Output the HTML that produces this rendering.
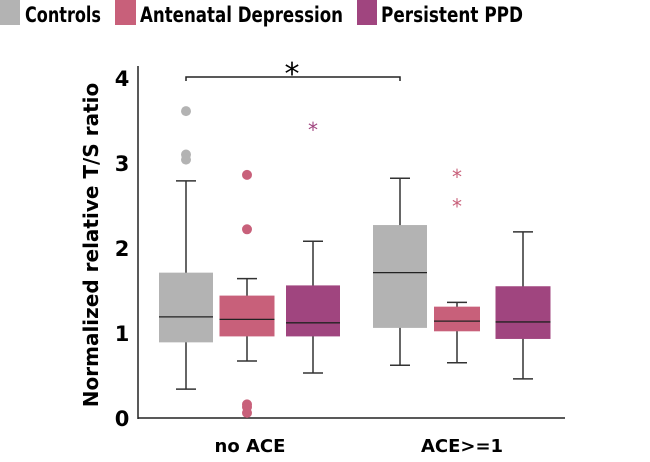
<!DOCTYPE html>
<html><head><meta charset="utf-8"><style>
body{margin:0;background:#fff;width:650px;height:462px;overflow:hidden}
svg{display:block;font-family:"DejaVu Sans","Liberation Sans",sans-serif;font-weight:bold}
</style></head><body>
<svg id="chart" width="650" height="462">
<g>
<rect x="0" y="0" width="20" height="25" fill="#b3b3b3"/>
<text x="25" y="22" font-size="21" textLength="76" lengthAdjust="spacingAndGlyphs">Controls</text>
<rect x="115" y="0" width="21" height="25" fill="#c8607a"/>
<text x="140" y="22" font-size="21" textLength="203" lengthAdjust="spacingAndGlyphs">Antenatal Depression</text>
<rect x="357" y="0" width="20" height="25" fill="#a0457f"/>
<text x="381" y="22" font-size="21" textLength="142" lengthAdjust="spacingAndGlyphs">Persistent PPD</text>
</g>
<text transform="translate(98,245) rotate(-90)" text-anchor="middle" font-size="20">Normalized relative T/S ratio</text>
<line x1="138" y1="66" x2="138" y2="419" stroke="#222" stroke-width="1.5"/>
<line x1="138" y1="418" x2="565" y2="418" stroke="#222" stroke-width="1.5"/>
<text x="250" y="452" text-anchor="middle" font-size="18">no ACE</text>
<text x="462" y="452" text-anchor="middle" font-size="18">ACE&gt;=1</text>
<path d="M186,81 V77 H400 V81" fill="none" stroke="#222" stroke-width="1.5"/>
<text x="292" y="84" text-anchor="middle" font-size="30" font-weight="normal">*</text>
<g id="marks"></g>
</svg>
<script>
const yTicks=[0,1,2,3,4];
const groupNames=["controls-no-ace","antenatal-no-ace","ppd-no-ace","controls-ace","antenatal-ace","ppd-ace"];
const whiskerLow=[0.34,0.67,0.53,0.62,0.65,0.46];
const q1=[0.89,0.96,0.96,1.06,1.02,0.93];
const medians=[1.19,1.16,1.12,1.71,1.14,1.13];
const q3=[1.71,1.44,1.56,2.27,1.31,1.55];
const whiskerHigh=[2.79,1.64,2.08,2.82,1.36,2.19];
const outlierDots=[[3.61,3.1,3.04],[2.86,2.22,0.16,0.13,0.06],[],[],[],[]];
const outlierStars=[[],[],[3.41],[],[2.86,2.51],[]];
const colors=["#b3b3b3","#c8607a","#a0457f","#b3b3b3","#c8607a","#a0457f"];
const centers=[186,247,313,400,457,523];
const widths=[54,55,54,54,46,55];
const y=v=>418-85*v;
const NS="http://www.w3.org/2000/svg";
const g=document.getElementById('marks');
function mk(t,a,p){const e=document.createElementNS(NS,t);for(const k in a)e.setAttribute(k,a[k]);(p||g).appendChild(e);return e;}
yTicks.forEach(t=>{const e=mk('text',{x:122,y:y(t)+8,'text-anchor':'middle','font-size':21});e.textContent=t;

});
groupNames.forEach((n,i)=>{const c=centers[i],w=widths[i];
const grp=mk('g',{});


mk('line',{x1:c,x2:c,y1:y(whiskerHigh[i]),y2:y(whiskerLow[i]),stroke:'#333','stroke-width':1.5},grp);
mk('line',{x1:c-10,x2:c+10,y1:y(whiskerHigh[i]),y2:y(whiskerHigh[i]),stroke:'#333','stroke-width':1.5},grp);
mk('line',{x1:c-10,x2:c+10,y1:y(whiskerLow[i]),y2:y(whiskerLow[i]),stroke:'#333','stroke-width':1.5},grp);
mk('rect',{x:c-w/2,y:y(q3[i]),width:w,height:y(q1[i])-y(q3[i]),fill:colors[i]},grp);
mk('line',{x1:c-w/2,x2:c+w/2,y1:y(medians[i]),y2:y(medians[i]),stroke:'#222','stroke-width':1.3},grp);
outlierDots[i].forEach(v=>{const d=mk('circle',{cx:c,cy:y(v),r:5,fill:colors[i]},grp);

});
outlierStars[i].forEach(v=>{const s=mk('text',{x:c,y:y(v)+9,'text-anchor':'middle','font-size':20,'font-weight':'normal',fill:colors[i]},grp);s.textContent='*';

});
});
</script>
</body></html>
